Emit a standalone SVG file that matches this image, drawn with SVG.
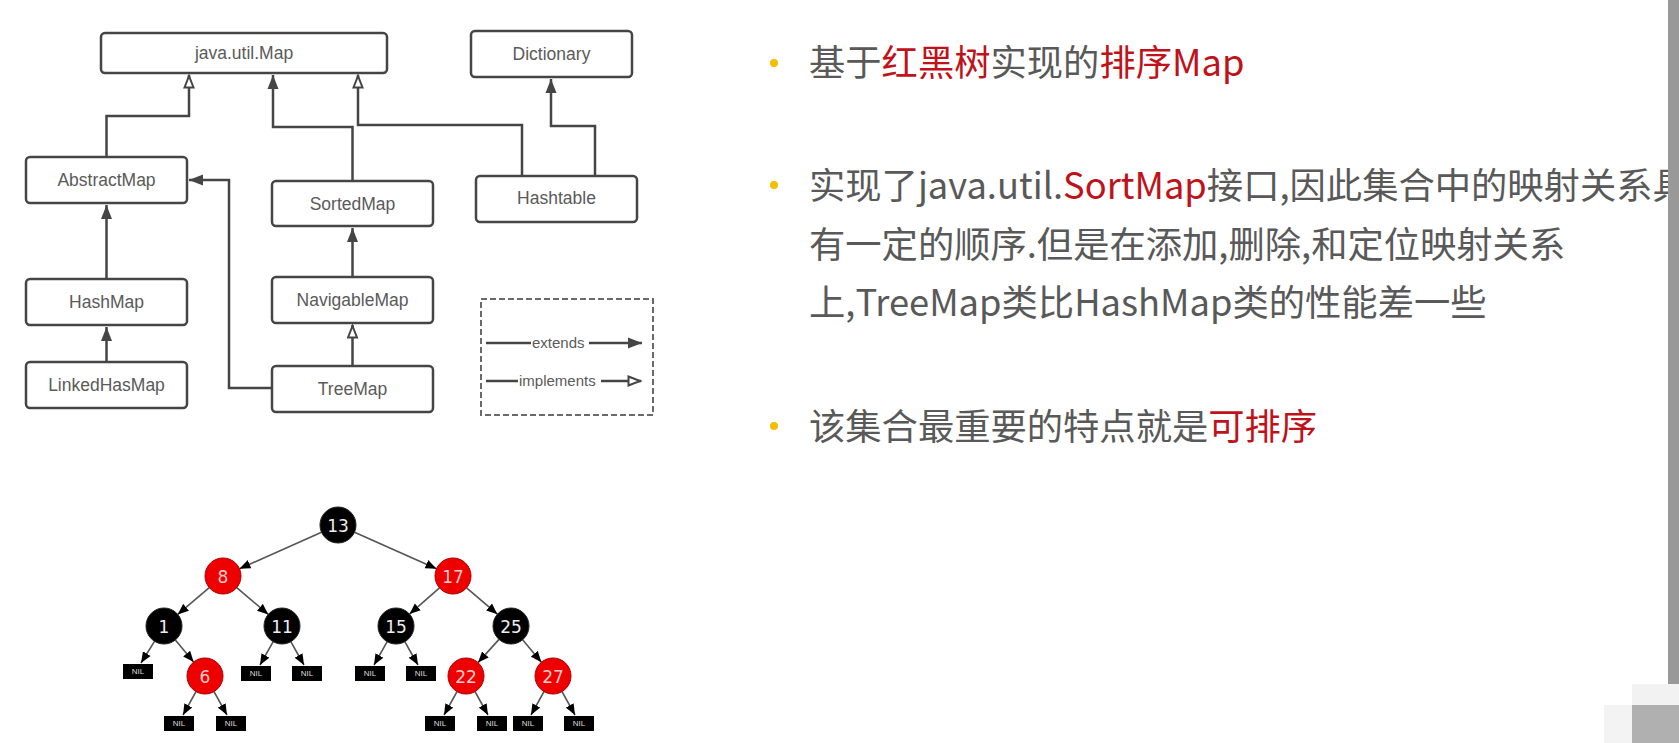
<svg xmlns="http://www.w3.org/2000/svg" width="1679" height="743" viewBox="0 0 1679 743">
<style>
.box{fill:#fff;stroke:#454545;stroke-width:2.5}
.lbl{font-family:"Liberation Sans",Arial,sans-serif;font-size:17.5px;fill:#5a5a5a;text-anchor:middle;dominant-baseline:central}
.leg{font-family:"Liberation Sans",Arial,sans-serif;font-size:15px;fill:#5a5a5a;dominant-baseline:central}
.con{fill:none;stroke:#454545;stroke-width:2.5}
.ext{marker-end:url(#ext)}
.imp{marker-end:url(#imp)}
.edge{stroke:#555;stroke-width:1.6;marker-end:url(#tarr)}
.blk{fill:#000;stroke:#222;stroke-width:1}
.red{fill:#ee0000;stroke:#a00;stroke-width:1}
.num{font-family:"DejaVu Sans",sans-serif;font-size:17px;text-anchor:middle;dominant-baseline:central}
.nil{fill:#000}
.niltx{font-family:"Liberation Sans",Arial,sans-serif;font-size:8px;fill:#ddd;text-anchor:middle;dominant-baseline:central}
.txt{font-family:"Noto Sans CJK SC","Noto Sans",sans-serif;font-size:36.3px;fill:#595959}
.hl{fill:#c0121a}
.dot{fill:#f5bd00}
</style>
<defs>
<marker id="ext" markerUnits="userSpaceOnUse" markerWidth="16" markerHeight="12" refX="14" refY="6" orient="auto">
<path d="M0,0.5 L14,6 L0,11.5 z" fill="#454545"/>
</marker>
<marker id="imp" markerUnits="userSpaceOnUse" markerWidth="16" markerHeight="12" refX="14" refY="6" orient="auto">
<path d="M1.5,1.5 L13,6 L1.5,10.5 z" fill="#fff" stroke="#454545" stroke-width="2"/>
</marker>
<marker id="tarr" markerUnits="userSpaceOnUse" markerWidth="12" markerHeight="10" refX="11" refY="5" orient="auto">
<path d="M0,0.5 L11,5 L0,9.5 z" fill="#000"/>
</marker>
</defs>
<rect width="1679" height="743" fill="#fff"/>

<g id="connectors">
<polyline class="con imp" points="106.5,157 106.5,116 189,116 189,75"/>
<polyline class="con ext" points="352.5,181 352.5,127 273,127 273,75"/>
<polyline class="con imp" points="522,176 522,125 358,125 358,75"/>
<polyline class="con ext" points="595,176 595,126 551,126 551,79"/>
<polyline class="con ext" points="106.5,279 106.5,205"/>
<polyline class="con ext" points="106.5,362 106.5,327"/>
<polyline class="con ext" points="272,388 229,388 229,180 189,180"/>
<polyline class="con ext" points="352.5,277 352.5,228"/>
<polyline class="con imp" points="352.5,366 352.5,325"/>
</g>

<g id="n-map"><rect class="box" x="101" y="33" width="286" height="40" rx="4"/><text class="lbl" x="244" y="53">java.util.Map</text></g>
<g id="n-dictionary"><rect class="box" x="471" y="31" width="161" height="46" rx="4"/><text class="lbl" x="551.5" y="54">Dictionary</text></g>
<g id="n-abstractmap"><rect class="box" x="26" y="157" width="161" height="46" rx="4"/><text class="lbl" x="106.5" y="180">AbstractMap</text></g>
<g id="n-sortedmap"><rect class="box" x="272" y="181" width="161" height="45" rx="4"/><text class="lbl" x="352.5" y="203.5">SortedMap</text></g>
<g id="n-hashtable"><rect class="box" x="476" y="176" width="161" height="46" rx="4"/><text class="lbl" x="556.5" y="198">Hashtable</text></g>
<g id="n-hashmap"><rect class="box" x="26" y="279" width="161" height="46" rx="4"/><text class="lbl" x="106.5" y="302">HashMap</text></g>
<g id="n-navigablemap"><rect class="box" x="272" y="277" width="161" height="46" rx="4"/><text class="lbl" x="352.5" y="300">NavigableMap</text></g>
<g id="n-linkedhasmap"><rect class="box" x="26" y="362" width="161" height="46" rx="4"/><text class="lbl" x="106.5" y="385">LinkedHasMap</text></g>
<g id="n-treemap"><rect class="box" x="272" y="366" width="161" height="46" rx="4"/><text class="lbl" x="352.5" y="389">TreeMap</text></g>

<g id="legend">
<rect x="481" y="299" width="172" height="116" fill="none" stroke="#6a6a6a" stroke-width="2" stroke-dasharray="6,3"/>
<line class="con" x1="486" y1="343" x2="531" y2="343"/>
<text class="leg" x="532" y="342">extends</text>
<line class="con ext" x1="589" y1="343" x2="642" y2="343"/>
<line class="con" x1="486" y1="381" x2="518" y2="381"/>
<text class="leg" x="519" y="380">implements</text>
<line class="con imp" x1="601" y1="381" x2="641" y2="381"/>
</g>

<g id="tree-edges">
<line class="edge" x1="321.5" y1="532.3" x2="239.5" y2="568.7"/>
<line class="edge" x1="354.5" y1="532.3" x2="436.5" y2="568.7"/>
<line class="edge" x1="209.3" y1="587.6" x2="177.7" y2="614.4"/>
<line class="edge" x1="236.7" y1="587.6" x2="268.3" y2="614.4"/>
<line class="edge" x1="439.5" y1="587.9" x2="409.5" y2="614.1"/>
<line class="edge" x1="466.6" y1="587.8" x2="497.4" y2="614.2"/>
<line class="edge" x1="154.5" y1="641.3" x2="141" y2="663"/>
<line class="edge" x1="175.4" y1="639.9" x2="193.6" y2="662.1"/>
<line class="edge" x1="273.2" y1="641.7" x2="260" y2="665"/>
<line class="edge" x1="290.8" y1="641.7" x2="304" y2="665"/>
<line class="edge" x1="387.2" y1="641.7" x2="374" y2="665"/>
<line class="edge" x1="404.8" y1="641.7" x2="418" y2="665"/>
<line class="edge" x1="499" y1="639.4" x2="478" y2="662.6"/>
<line class="edge" x1="522.6" y1="639.8" x2="541.4" y2="662.2"/>
<line class="edge" x1="196" y1="691.6" x2="183" y2="715"/>
<line class="edge" x1="214" y1="691.6" x2="227" y2="715"/>
<line class="edge" x1="457" y1="691.6" x2="444" y2="715"/>
<line class="edge" x1="475" y1="691.6" x2="488" y2="715"/>
<line class="edge" x1="544" y1="691.6" x2="531" y2="715"/>
<line class="edge" x1="562" y1="691.6" x2="575" y2="715"/>
</g>

<g id="t13"><circle class="blk" cx="338" cy="525" r="18"/><text class="num" x="338" y="526" fill="#eee">13</text></g>
<g id="t8"><circle class="red" cx="223" cy="576" r="18"/><text class="num" x="223" y="577" fill="#fcc">8</text></g>
<g id="t17"><circle class="red" cx="453" cy="576" r="18"/><text class="num" x="453" y="577" fill="#fcc">17</text></g>
<g id="t1"><circle class="blk" cx="164" cy="626" r="18"/><text class="num" x="164" y="627" fill="#eee">1</text></g>
<g id="t11"><circle class="blk" cx="282" cy="626" r="18"/><text class="num" x="282" y="627" fill="#eee">11</text></g>
<g id="t15"><circle class="blk" cx="396" cy="626" r="18"/><text class="num" x="396" y="627" fill="#eee">15</text></g>
<g id="t25"><circle class="blk" cx="511" cy="626" r="18"/><text class="num" x="511" y="627" fill="#eee">25</text></g>
<g id="t6"><circle class="red" cx="205" cy="676" r="18"/><text class="num" x="205" y="677" fill="#fcc">6</text></g>
<g id="t22"><circle class="red" cx="466" cy="676" r="18"/><text class="num" x="466" y="677" fill="#fcc">22</text></g>
<g id="t27"><circle class="red" cx="553" cy="676" r="18"/><text class="num" x="553" y="677" fill="#fcc">27</text></g>

<g id="nil1"><rect class="nil" x="123" y="664" width="30" height="15"/><text class="niltx" x="138" y="671.5">NIL</text></g>
<g id="nil2"><rect class="nil" x="164" y="716" width="30" height="15"/><text class="niltx" x="179" y="723.5">NIL</text></g>
<g id="nil3"><rect class="nil" x="216" y="716" width="30" height="15"/><text class="niltx" x="231" y="723.5">NIL</text></g>
<g id="nil4"><rect class="nil" x="241" y="666" width="30" height="15"/><text class="niltx" x="256" y="673.5">NIL</text></g>
<g id="nil5"><rect class="nil" x="292" y="666" width="30" height="15"/><text class="niltx" x="307" y="673.5">NIL</text></g>
<g id="nil6"><rect class="nil" x="355" y="666" width="30" height="15"/><text class="niltx" x="370" y="673.5">NIL</text></g>
<g id="nil7"><rect class="nil" x="406" y="666" width="30" height="15"/><text class="niltx" x="421" y="673.5">NIL</text></g>
<g id="nil8"><rect class="nil" x="425" y="716" width="30" height="15"/><text class="niltx" x="440" y="723.5">NIL</text></g>
<g id="nil9"><rect class="nil" x="477" y="716" width="30" height="15"/><text class="niltx" x="492" y="723.5">NIL</text></g>
<g id="nil10"><rect class="nil" x="513" y="716" width="30" height="15"/><text class="niltx" x="528" y="723.5">NIL</text></g>
<g id="nil11"><rect class="nil" x="564" y="716" width="30" height="15"/><text class="niltx" x="579" y="723.5">NIL</text></g>

<g id="bullets">
<circle class="dot" cx="774" cy="63" r="4"/>
<text class="txt" x="809" y="76">基于<tspan class="hl">红黑树</tspan>实现的<tspan class="hl">排序Map</tspan></text>
<circle class="dot" cx="774" cy="185" r="4"/>
<text class="txt" x="809" y="199">实现了java.util.<tspan class="hl">SortMap</tspan>接口,因此集合中的映射关系具</text>
<text class="txt" x="809" y="258">有一定的顺序.但是在添加,删除,和定位映射关系</text>
<text class="txt" x="809" y="316">上,TreeMap类比HashMap类的性能差一些</text>
<circle class="dot" cx="774" cy="426" r="4"/>
<text class="txt" x="809" y="440">该集合最重要的特点就是<tspan class="hl">可排序</tspan></text>
</g>

<g id="frame">
<rect x="1668" y="0" width="11" height="684" fill="#999"/>
<rect x="1632" y="684" width="47" height="21" fill="#f2f2f2"/>
<rect x="1604" y="705" width="28" height="38" fill="#f3f3f3"/>
<rect x="1632" y="705" width="47" height="38" fill="#b0b0b0"/>
</g>
</svg>
